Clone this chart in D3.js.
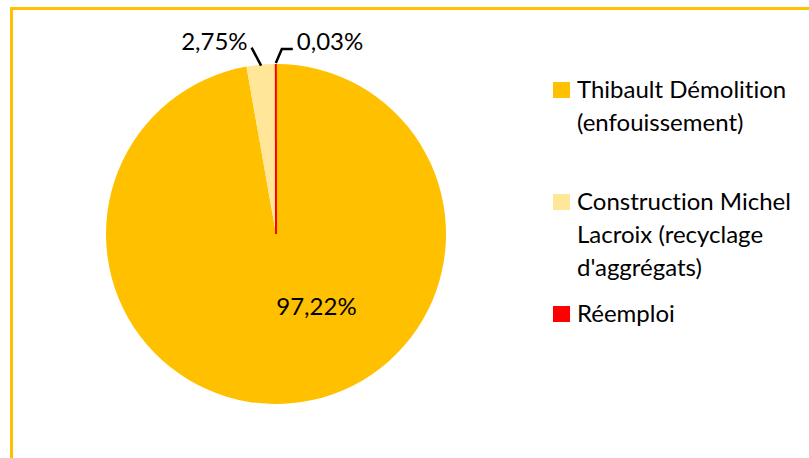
<!DOCTYPE html>
<html>
<head>
<meta charset="utf-8">
<script src="https://cdn.jsdelivr.net/npm/d3@7"></script>
<style>
    body { margin: 0; background: #fff; }
    svg text { font-family: Lato, "Open Sans", sans-serif; fill: #000; font-variant-ligatures: none; font-feature-settings: "liga" 0; }
</style>
</head>
<body>
<svg id="chart" width="809" height="458"></svg>
<script>
// chart data
const categories = ["Thibault Démolition (enfouissement)", "Construction Michel Lacroix (recyclage d'aggrégats)", "Réemploi"];
const values = [97.22, 2.75, 0.03];
const labels = ["97,22%", "2,75%", "0,03%"];
const legendLines = [["Thibault Démolition", "(enfouissement)"], ["Construction Michel", "Lacroix (recyclage", "d'aggrégats)"], ["Réemploi"]];
const colors = ["#FFC000", "#FFE699", "#FF0000"];

const width = 809, height = 458;
const cx = 276, cy = 234, radius = 170;
const fontSize = 24;

let svg = d3.select("#chart");

// frame
svg.append("path")
    .attr("d", "M11.5," + height + " V8.5 H" + width)
    .attr("fill", "none")
    .attr("stroke", "#FFC000")
    .attr("stroke-width", 3);

let data = values.map(function (v, i) {
    return {name: categories[i], value: v, label: labels[i], color: colors[i]};
});

let pie = d3.pie()
    .sort(null)
    .value(function (d) { return d.value; });
let arcs = pie(data);

let arc = d3.arc().innerRadius(0).outerRadius(radius);

let pieG = svg.append("g")
    .attr("transform", "translate(" + cx + "," + cy + ")");

pieG.selectAll("path")
    .data(arcs)
    .enter()
    .append("path")
    .attr("d", arc)
    .attr("fill", function (d) { return d.data.color; });

// the very thin slice is drawn as a line so it stays visible
let tiny = arcs[2];
let tinyMid = (tiny.startAngle + tiny.endAngle) / 2;
pieG.append("line")
    .attr("x1", 0).attr("y1", 0)
    .attr("x2", radius * Math.sin(tinyMid))
    .attr("y2", -radius * Math.cos(tinyMid))
    .attr("stroke", colors[2])
    .attr("stroke-width", 2);

function polar(angle, r) {
    return [r * Math.sin(angle), -r * Math.cos(angle)];
}

// inside label for the big slice
let big = arcs[0];
let bigPos = polar((big.startAngle + big.endAngle) / 2 - 0.42, radius * 0.49);
pieG.append("text")
    .attr("x", bigPos[0])
    .attr("y", bigPos[1])
    .attr("dy", "0.35em")
    .attr("text-anchor", "middle")
    .attr("font-size", fontSize)
    .text(big.data.label);

// outside label for slice 2
let s2 = arcs[1];
let m2 = (s2.startAngle + s2.endAngle) / 2;
let p2a = polar(m2, radius - 1);
let p2b = polar(m2 - 0.042, radius + 18);
pieG.append("polyline")
    .attr("points", [p2a, p2b].map(function (p) { return p.join(","); }).join(" "))
    .attr("fill", "none")
    .attr("stroke", "#000")
    .attr("stroke-width", 2.5);
pieG.append("text")
    .attr("x", p2b[0] - 4)
    .attr("y", p2b[1] - 6)
    .attr("dy", "0.35em")
    .attr("text-anchor", "end")
    .attr("font-size", fontSize)
    .text(s2.data.label);

// outside label for slice 3
let p3a = polar(tinyMid, radius + 1);
let p3b = [p3a[0] + 6, p3a[1] - 14];
let p3c = [p3b[0] + 11, p3b[1]];
pieG.append("polyline")
    .attr("points", [p3a, p3b, p3c].map(function (p) { return p.join(","); }).join(" "))
    .attr("fill", "none")
    .attr("stroke", "#000")
    .attr("stroke-width", 2.5);
pieG.append("text")
    .attr("x", p3c[0] + 4)
    .attr("y", p3c[1] - 7)
    .attr("dy", "0.35em")
    .attr("text-anchor", "start")
    .attr("font-size", fontSize)
    .text(tiny.data.label);

// legend
let lineH = 33;
let legendTops = [90, 202, 314];
let legendG = svg.append("g").attr("id", "legendG");
let items = legendG.selectAll("g")
    .data(data)
    .enter()
    .append("g")
    .attr("transform", function (d, i) { return "translate(553," + legendTops[i] + ")"; });

items.append("rect")
    .attr("x", 0)
    .attr("y", -8)
    .attr("width", 17)
    .attr("height", 16)
    .attr("fill", function (d) { return d.color; });

items.each(function (d, i) {
    let t = d3.select(this).append("text")
        .attr("x", 24)
        .attr("font-size", fontSize);
    legendLines[i].forEach(function (line, j) {
        t.append("tspan")
            .attr("x", 24)
            .attr("y", j * lineH)
            .attr("dy", "0.35em")
            .text(line);
    });
});
</script>
</body>
</html>
